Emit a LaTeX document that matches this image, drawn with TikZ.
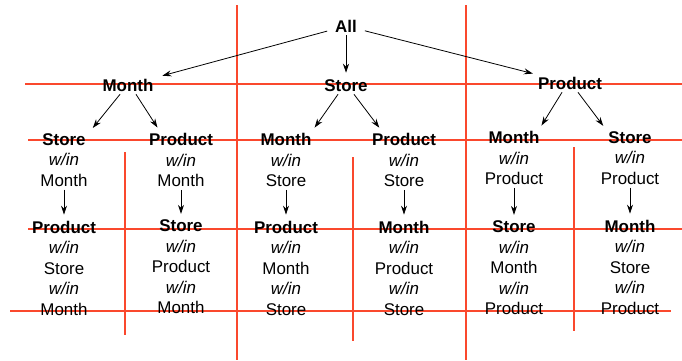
\documentclass[tikz,border=0pt]{standalone}
\usepackage{fontspec}
\setmainfont{Liberation Sans}
\usetikzlibrary{arrows.meta}
\definecolor{cutred}{RGB}{250,72,45}
\tikzset{
	dim/.style={font=\fontsize{17}{20.6}\selectfont\bfseries, text height=12.2pt, text depth=0pt, inner sep=3pt},
	cell/.style={font=\fontsize{17}{20.6}\selectfont, align=center, inner sep=3pt},
	cut/.style={draw=cutred, line width=1.3bp},
	arr/.style={-{Stealth[length=9pt,width=6pt]}, line width=0.8pt, shorten >=3pt}
}
\newcommand{\wi}{\textit{w/in}}

\begin{document}
\begin{tikzpicture}[x=1bp, y=-1bp]
			%%%%% START %%%%%
			\useasboundingbox (0, 0) rectangle (682, 360);
			
			% partition lines
			\draw[cut] (237, 5) -- (237, 360);
			\draw[cut] (466, 5) -- (466, 360);
			\draw[cut] (25, 84) -- (682, 84);
			\draw[cut] (28, 140) -- (682, 140);
			\draw[cut] (28, 229) -- (682, 229);
			\draw[cut] (10, 311) -- (671, 311);
			\draw[cut] (125, 152) -- (125, 335);
			\draw[cut] (353, 157) -- (353, 341);
			\draw[cut] (574, 147) -- (574, 331);
			
			% top two levels
			\node[dim] (all) at (346, 26) {All};
			\node[dim] (m) at (128, 85) {Month};
			\node[dim] (s) at (346, 85) {Store};
			\node[dim] (p) at (570, 83) {Product};
			
			% second split
			\node[cell] (ms) at (64, 160) {\textbf{Store}\\\wi\\Month};
			\node[cell] (mp) at (181, 160) {\textbf{Product}\\\wi\\Month};
			\node[cell] (sm) at (286, 160) {\textbf{Month}\\\wi\\Store};
			\node[cell] (sp) at (404, 160) {\textbf{Product}\\\wi\\Store};
			\node[cell] (pm) at (514, 158) {\textbf{Month}\\\wi\\Product};
			\node[cell] (ps) at (630, 158) {\textbf{Store}\\\wi\\Product};
			
			% third split
			\node[cell] (msp) at (64, 268) {\textbf{Product}\\\wi\\Store\\\wi\\Month};
			\node[cell] (mps) at (181, 267) {\textbf{Store}\\\wi\\Product\\\wi\\Month};
			\node[cell] (smp) at (286, 268) {\textbf{Product}\\\wi\\Month\\\wi\\Store};
			\node[cell] (spm) at (404, 268) {\textbf{Month}\\\wi\\Product\\\wi\\Store};
			\node[cell] (pms) at (514, 268) {\textbf{Store}\\\wi\\Month\\\wi\\Product};
			\node[cell] (psm) at (630, 267) {\textbf{Month}\\\wi\\Store\\\wi\\Product};
			
			\draw[arr, shorten <=5pt, shorten >=6pt] (all) -- (m);
			\draw[arr] (all) -- (s);
			\draw[arr, shorten <=5pt, shorten >=2pt] (all) -- (p);
			
			\draw[arr] ([xshift=-8pt]m.south) -- ([xshift=27pt]ms.north);
			\draw[arr] ([xshift=8pt]m.south) -- ([xshift=-22pt]mp.north);
			\draw[arr] ([xshift=-8pt]s.south) -- ([xshift=27pt]sm.north);
			\draw[arr] ([xshift=8pt]s.south) -- ([xshift=-23pt]sp.north);
			\draw[arr] ([xshift=-8pt]p.south) -- ([xshift=26pt]pm.north);
			\draw[arr] ([xshift=8pt]p.south) -- ([xshift=-25pt]ps.north);
			
			\draw[arr] (ms) -- (msp);
			\draw[arr] (mp) -- (mps);
			\draw[arr] (sm) -- (smp);
			\draw[arr] (sp) -- (spm);
			\draw[arr] (pm) -- (pms);
			\draw[arr] (ps) -- (psm);
			
			%%%%% END %%%%%
		\end{tikzpicture}
\end{document}
